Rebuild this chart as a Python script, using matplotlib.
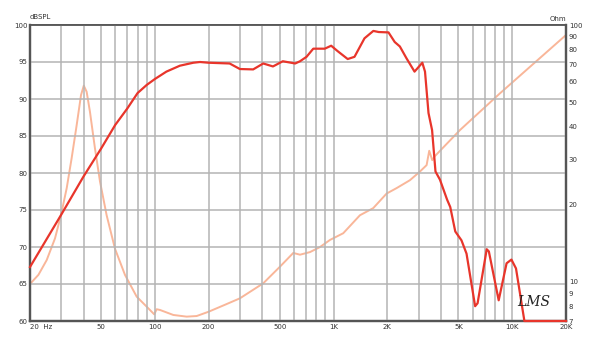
import numpy as np
import matplotlib.pyplot as plt
from matplotlib.ticker import FixedLocator, NullLocator

# SPL response (Hz, dB)
spl_freq = [20, 29.8, 39.8, 50, 60, 70, 80, 90, 100, 116, 138, 164, 179, 200, 262,
            299, 355, 404, 458, 520, 610, 649, 706, 770, 893, 970, 1050, 1200, 1310,
            1490, 1670, 1790, 2030, 2200, 2350, 2560, 2840, 3140, 3250, 3400, 3560,
            3720, 3940, 4320, 4500, 4800, 5200, 5550, 6200, 6400, 7200, 7400, 8400,
            9300, 9900, 10500, 11700, 20000]
spl_db = [67.3, 74.3, 79.5, 83.3, 86.5, 88.7, 90.8, 91.9, 92.7, 93.7, 94.5, 94.9, 95.0, 94.9, 94.8,
          94.05, 94.0, 94.8, 94.4, 95.1, 94.8, 95.1, 95.7, 96.8, 96.8, 97.2, 96.5, 95.4, 95.7,
          98.2, 99.2, 99.05, 99.0, 97.7, 97.1, 95.5, 93.7, 94.9, 93.7, 88.1, 85.8,
          80.2, 79.1, 76.4, 75.4, 72.1, 70.9, 69.1, 62.0, 62.4, 69.7, 69.4, 62.8,
          67.8, 68.3, 67.1, 60.0, 60.0]

# impedance (Hz, Ohm)
imp_freq = [20, 22.3, 24.8, 27.6, 29.8, 32.1, 34.2, 36.5, 38.6, 40.0, 41.5, 43.3, 46.2,
            49.3, 53.7, 59.8, 68.0, 79.1, 90, 99.2, 102.3, 106.8, 126.8, 150.6, 171.4,
            200, 252, 299, 404, 501, 595, 649, 738, 839, 955, 1133, 1405, 1668, 1982,
            2254, 2676, 3044, 3318, 3432, 3568, 3694, 5098, 8534, 20000]
imp_ohm = [9.76, 10.6, 12.1, 14.7, 18.1, 23.1, 30.2, 40.7, 53.3, 58.0, 54.9, 45.9, 33.0,
           24.5, 18.1, 13.4, 10.6, 8.71, 7.96, 7.43, 7.78, 7.73, 7.39, 7.28, 7.32,
           7.61, 8.15, 8.58, 9.82, 11.4, 12.9, 12.7, 13.0, 13.6, 14.5, 15.4, 18.1, 19.3, 22.0,
           23.1, 24.8, 26.8, 28.4, 32.3, 29.7, 30.8, 38.9, 54.1, 91.4]

grid_freqs = [20, 30, 40, 50, 60, 70, 80, 90, 100, 200, 300, 400, 500, 600, 700, 800, 900,
              1000, 2000, 3000, 4000, 5000, 6000, 7000, 8000, 9000, 10000, 20000]
freq_labels = {20: '20  Hz', 50: '50', 100: '100', 200: '200', 500: '500', 1000: '1K',
               2000: '2K', 5000: '5K', 10000: '10K', 20000: '20K'}
db_ticks = [60, 65, 70, 75, 80, 85, 90, 95, 100]
ohm_ticks = [7, 8, 9, 10, 20, 30, 40, 50, 60, 70, 80, 90, 100]

red = '#e8352b'
peach = '#f9b699'
axis_col = '#555555'
grid_col = '#b4b4b4'

fig = plt.figure(figsize=(6.03, 3.6), dpi=100)
ax = fig.add_axes([30 / 603, 39 / 360, 536 / 603, 296 / 360])
ax2 = ax.twinx()

ax.set_xscale('log')
ax.set_xlim(20, 20000)
ax.set_ylim(60, 100)
ax.xaxis.set_major_locator(FixedLocator(grid_freqs))
ax.xaxis.set_minor_locator(NullLocator())
ax.set_xticklabels([freq_labels.get(f, '') for f in grid_freqs])
ax.set_yticks(db_ticks)
ax.set_yticklabels([str(v) for v in db_ticks])
ax.grid(True, color=grid_col, linewidth=1.1)
ax.tick_params(length=0, labelsize=5, colors='#333333', pad=2)
for lab in ax.get_xticklabels():
    if lab.get_text().startswith('20 '):
        lab.set_horizontalalignment('left')

ax2.set_yscale('log')
ax2.set_ylim(7, 100)
ax2.yaxis.set_major_locator(FixedLocator(ohm_ticks))
ax2.yaxis.set_minor_locator(NullLocator())
ax2.set_yticklabels([str(v) for v in ohm_ticks])
ax2.tick_params(length=0, labelsize=5, colors='#333333', pad=2)

for a in (ax, ax2):
    for side in ('left', 'bottom', 'right'):
        a.spines[side].set_color(axis_col)
        a.spines[side].set_linewidth(1.6)
    a.spines['top'].set_color(axis_col)
    a.spines['top'].set_linewidth(1.2)

ax2.plot(imp_freq, imp_ohm, color=peach, linewidth=1.4, zorder=2)
ax.set_zorder(ax2.get_zorder() + 1)
ax.patch.set_visible(False)
ax.plot(spl_freq, spl_db, color=red, linewidth=1.6, zorder=3, clip_on=False)

fig.text(30 / 603, 1 - 20 / 360, 'dBSPL', fontsize=5, color='#333333', ha='left', va='bottom')
fig.text(566 / 603, 1 - 22 / 360, 'Ohm', fontsize=5, color='#333333', ha='right', va='bottom')
ax.text(0.94, 0.065, 'LMS', transform=ax.transAxes, fontsize=10, style='italic',
        family='DejaVu Serif', color='#222222', ha='center', va='center')

fig.savefig('out.png', dpi=100)
